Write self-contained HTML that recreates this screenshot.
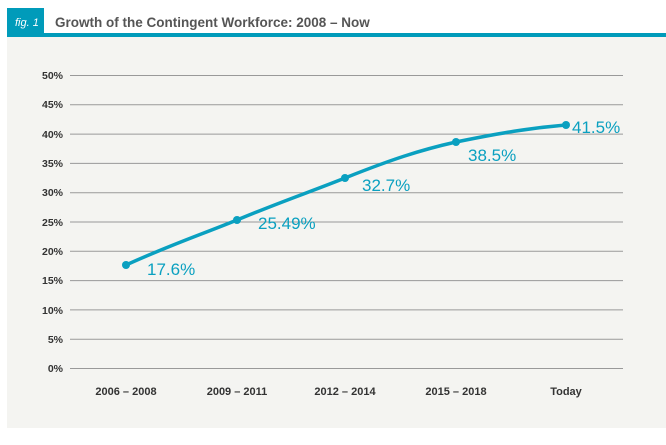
<!DOCTYPE html>
<html><head><style>
body{margin:0;width:666px;height:440px;background:#fff;overflow:hidden;font-family:"Liberation Sans",sans-serif}
</style></head><body>
<svg width="666" height="440" xmlns="http://www.w3.org/2000/svg" font-family="Liberation Sans, sans-serif">
<rect x="7" y="37" width="659" height="391" fill="#f4f4f1"/>
<rect x="7" y="8" width="37" height="29" fill="#009bba"/>
<rect x="7" y="33" width="659" height="4" fill="#009bba"/>
<text x="15" y="26" fill="#fff" font-size="11" font-style="italic">fig. 1</text>
<text x="55" y="27" fill="#555" font-size="13.5" font-weight="bold">Growth of the Contingent Workforce: 2008 – Now</text>
<g stroke="#999" stroke-width="1">
<line x1="70" x2="623" y1="75.5" y2="75.5"/><line x1="70" x2="623" y1="104.8" y2="104.8"/>
<line x1="70" x2="623" y1="134.1" y2="134.1"/><line x1="70" x2="623" y1="163.4" y2="163.4"/>
<line x1="70" x2="623" y1="192.7" y2="192.7"/><line x1="70" x2="623" y1="222" y2="222"/>
<line x1="70" x2="623" y1="251.3" y2="251.3"/><line x1="70" x2="623" y1="280.6" y2="280.6"/>
<line x1="70" x2="623" y1="309.9" y2="309.9"/><line x1="70" x2="623" y1="339.2" y2="339.2"/>
<line x1="70" x2="623" y1="368.5" y2="368.5"/>
</g>
<g font-size="10.5" font-weight="bold" fill="#333" text-anchor="end">
<text x="63" y="79">50%</text><text x="63" y="108">45%</text><text x="63" y="138">40%</text>
<text x="63" y="167">35%</text><text x="63" y="196">30%</text><text x="63" y="226">25%</text>
<text x="63" y="255">20%</text><text x="63" y="284">15%</text><text x="63" y="314">10%</text>
<text x="63" y="343">5%</text><text x="63" y="372">0%</text>
</g>
<g font-size="11" font-weight="bold" fill="#333" text-anchor="middle">
<text x="126" y="395">2006 – 2008</text><text x="237" y="395">2009 – 2011</text>
<text x="345" y="395">2012 – 2014</text><text x="456" y="395">2015 – 2018</text>
<text x="566" y="395">Today</text>
</g>
<path d="M126,265 C170,245 200,235 237,220 C280,202 310,192 345,178 C390,160 420,150 456,142 C500,133 530,128 566,125" fill="none" stroke="#0aa0c0" stroke-width="3.5"/>
<g fill="#0aa0c0">
<circle cx="126" cy="265" r="4"/><circle cx="237" cy="220" r="4"/><circle cx="345" cy="178" r="4"/>
<circle cx="456" cy="142" r="4"/><circle cx="566" cy="125" r="4"/>
</g>
<g font-size="17" fill="#0aa0c0">
<text x="147" y="275">17.6%</text><text x="258" y="229">25.49%</text><text x="362" y="191">32.7%</text>
<text x="468" y="161">38.5%</text><text x="572" y="133">41.5%</text>
</g>
</svg>
</body></html>
